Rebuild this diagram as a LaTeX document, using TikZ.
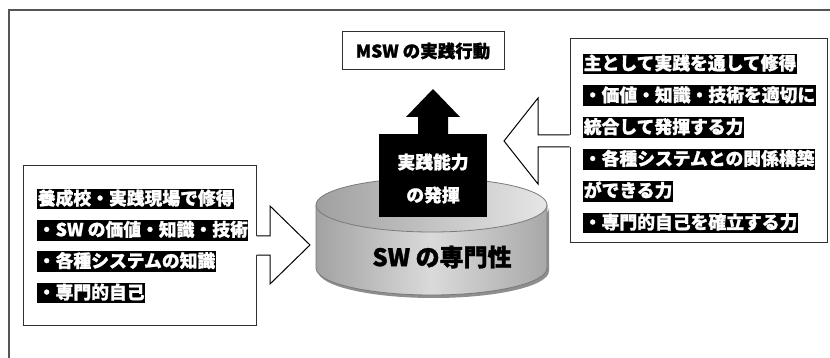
\documentclass[tikz,border=0pt]{standalone}
\usepackage{fontspec}
\newfontfamily\jp{Noto Sans CJK JP}[BoldFeatures={FakeBold=1.2}]
\definecolor{framec}{HTML}{555555}
\definecolor{boxc}{HTML}{303030}
\definecolor{cylL}{HTML}{A2A2A2}
\definecolor{cylM}{HTML}{DADADA}
\definecolor{cylR}{HTML}{A8A8A8}
\definecolor{topL}{HTML}{A0A0A0}
\definecolor{topR}{HTML}{E6E6E6}
\definecolor{cylline}{HTML}{7A7A7A}
\definecolor{shadowc}{HTML}{8E8E8E}
\begin{document}
\begin{tikzpicture}[x=1pt,y=-1pt,
  outer/.style={draw=framec, line width=1.3pt},
  box/.style={draw=boxc, line width=1pt, fill=white, inner sep=0pt},
  hl/.style={fill=black, text=white, font=\jp\bfseries\fontsize{17.8}{20}\selectfont,
    inner xsep=0.6pt, inner ysep=1pt, text height=15.3pt, text depth=3.6pt, anchor=west},
  plain/.style={text=black, font=\jp\bfseries\fontsize{17.5}{20}\selectfont, inner sep=0pt},
  wtxt/.style={text=white, font=\jp\bfseries\fontsize{17.8}{20}\selectfont, inner sep=0pt},
  big/.style={text=black, font=\jp\bfseries\fontsize{24}{28}\selectfont, inner sep=0pt},
  arr/.style={draw=black, line width=1pt, line join=miter},
  cyl/.style={draw=cylline, line width=0.8pt}
]
\useasboundingbox (0,0) rectangle (830,358);

% outer frame (cut at right and bottom)
\draw[outer] (9,360) -- (9,10) -- (832,10);

% boxes
\node[box, minimum width=233, minimum height=159] (lbox) at (139.5,245.5) {};
\node[box, minimum width=257, minimum height=204] (rbox) at (698.5,141) {};
\node[box, minimum width=162, minimum height=38] (msw) at (423,51) {};
\node[plain] (msw-t) at (msw.center) {MSW の実践行動};

% left hollow arrow (into cylinder)
\fill[white] (253,236) -- (270,236) -- (270,206) -- (310,245) -- (270,284) -- (270,255) -- (253,255) -- cycle;
\draw[arr] (lbox.east |- 0,236) -- (270,236) -- (270,206) -- (310,245) -- (270,284) -- (270,255) -- (lbox.east |- 0,255);

% right hollow arrow (pointing left)
\fill[white] (573,135) -- (538,135) -- (538,98) -- (504,141) -- (538,184) -- (538,147) -- (573,147) -- cycle;
\draw[arr] (rbox.west |- 0,135) -- (538,135) -- (538,98) -- (504,141) -- (538,184) -- (538,147) -- (rbox.west |- 0,147);

% cylinder shadow
\begin{scope}[shift={(2,3)}]
\fill[shadowc] (316,205) -- (316,268) arc[start angle=180, end angle=0, x radius=115.5, y radius=27]
  -- (547,205) arc[start angle=0, end angle=180, x radius=115.5, y radius=27] -- cycle;
\end{scope}
% cylinder side
\shade[left color=cylL, right color=cylR, middle color=cylM]
  (316,205) -- (316,268) arc[start angle=180, end angle=0, x radius=115.5, y radius=27]
  -- (547,205) arc[start angle=0, end angle=180, x radius=115.5, y radius=27] -- cycle;
\draw[cyl] (316,205) -- (316,268) arc[start angle=180, end angle=0, x radius=115.5, y radius=27]
  -- (547,205);
% cylinder top
\shade[left color=topL, right color=topR] (431.5,205) ellipse[x radius=115.5, y radius=27];
\draw[cyl] (431.5,205) ellipse[x radius=115.5, y radius=27];
\node[big] (sw) at (442,257) {SW の専門性};

% black box with up arrow
\node[fill=black, minimum width=108, minimum height=83, inner sep=0pt] (act) at (433,175.5) {};
\fill[black] (418,135) -- (418,117) -- (406,117) -- (433,89) -- (460,117) -- (448,117) -- (448,135) -- cycle;
\node[wtxt] (act1) at (433,162) {実践能力};
\node[wtxt] (act2) at (433,195) {の発揮};

% left box text
\node[hl] (l1) at (37,199) {養成校・実践現場で修得};
\node[hl] (l2) at (37,230.3) {・SW の価値・知識・技術};
\node[hl] (l3) at (37,261.6) {・各種システムの知識};
\node[hl] (l4) at (37,293) {・専門的自己};

% right box text
\node[hl] (r1) at (583,64) {主として実践を通して修得};
\node[hl] (r2) at (583,95.8) {・価値・知識・技術を適切に};
\node[hl] (r3) at (583,127.6) {統合して発揮する力};
\node[hl] (r4) at (583,159.4) {・各種システムとの関係構築};
\node[hl] (r5) at (583,191.2) {ができる力};
\node[hl] (r6) at (583,223) {・専門的自己を確立する力};
\end{tikzpicture}
\end{document}
